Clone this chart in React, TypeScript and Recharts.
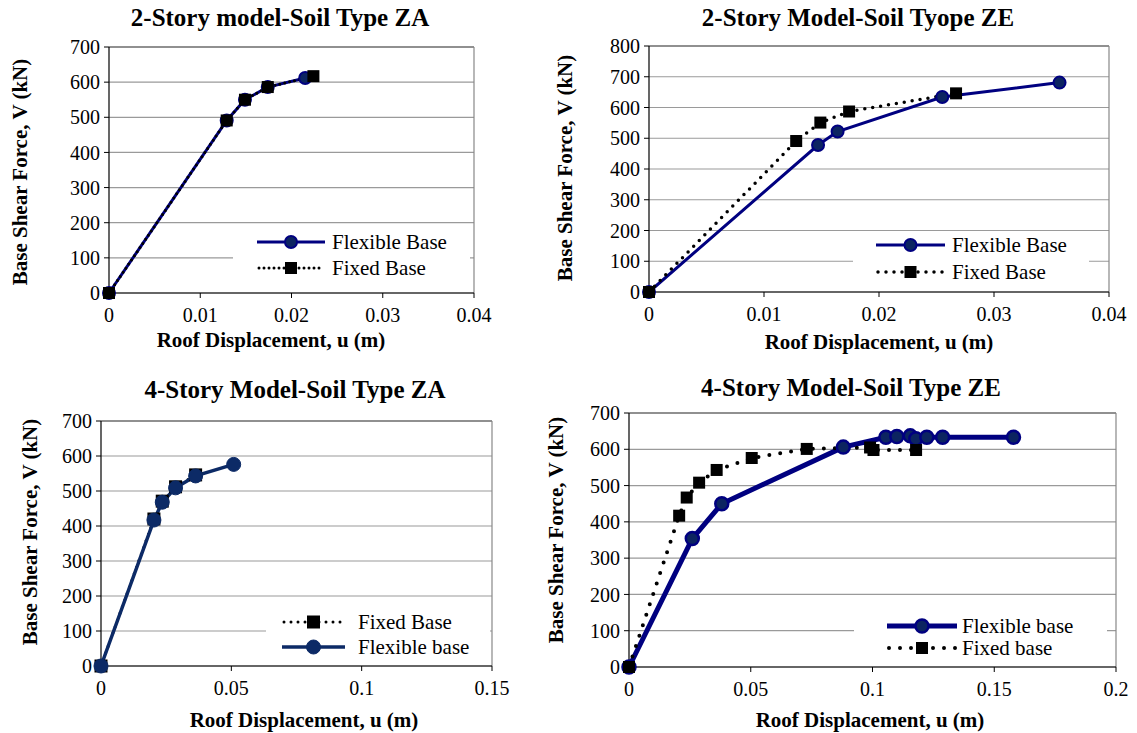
import React from 'react';
import { LineChart, Line, XAxis, YAxis, CartesianGrid, Legend, ReferenceLine } from 'recharts';

// ---------- Data (roof displacement u [m], base shear V [kN]) ----------
// 2-Story model - Soil Type ZA
const p1FlexX = [0, 0.0129, 0.0149, 0.0174, 0.0215];
const p1FlexV = [0, 491, 550, 586, 612];
const p1FixX = [0, 0.0129, 0.0149, 0.0174, 0.0224];
const p1FixV = [0, 491, 550, 586, 617];
// 2-Story Model - Soil Tyope ZE
const p2FlexX = [0, 0.0147, 0.0164, 0.0255, 0.0357];
const p2FlexV = [0, 478, 522, 634, 681];
const p2FixX = [0, 0.0128, 0.0149, 0.0174, 0.0267];
const p2FixV = [0, 491, 551, 587, 646];
// 4-Story Model - Soil Type ZA
const p3FlexX = [0, 0.0203, 0.0235, 0.0286, 0.0363, 0.0509];
const p3FlexV = [0, 417, 468, 509, 543, 576];
const p3FixX = [0, 0.0203, 0.0235, 0.0286, 0.0363];
const p3FixV = [0, 420, 471, 512, 546];
// 4-Story Model - Soil Type ZE
const p4FlexX = [0, 0.026, 0.0381, 0.088, 0.1055, 0.11, 0.1155, 0.1178, 0.1223, 0.1288, 0.1579];
const p4FlexV = [0, 354, 450, 606, 633, 635, 637, 629, 633, 633, 633];
const p4FixX = [0, 0.0206, 0.0237, 0.0288, 0.036, 0.0504, 0.073, 0.099, 0.1004, 0.1179];
const p4FixV = [0, 417, 467, 508, 543, 576, 601, 605, 598, 598];

// ---------- Ticks & labels ----------
const xTicks2Story = [0, 0.01, 0.02, 0.03, 0.04];
const xTicks4StoryZA = [0, 0.05, 0.1, 0.15];
const xTicks4StoryZE = [0, 0.05, 0.1, 0.15, 0.2];
const yTicks700 = [0, 100, 200, 300, 400, 500, 600, 700];
const yTicks800 = [0, 100, 200, 300, 400, 500, 600, 700, 800];
const titles = [
  '2-Story model-Soil Type ZA',
  '2-Story Model-Soil Tyope ZE',
  '4-Story Model-Soil Type ZA',
  '4-Story Model-Soil Type ZE',
];
const xAxisTitle = 'Roof Displacement, u (m)';
const yAxisTitle = 'Base Shear Force, V (kN)';
const legendNames = {
  p1: ['Flexible Base', 'Fixed Base'],
  p2: ['Flexible Base', 'Fixed Base'],
  p3: ['Fixed Base', 'Flexible base'],
  p4: ['Flexible base', 'Fixed base'],
};

const toPts = (xs: number[], vs: number[]) => xs.map((x, i) => ({ x, v: vs[i] }));

const SERIF = '"Liberation Serif", "Times New Roman", Times, serif';

type FlexStyle = { stroke: string; width: number; r: number; fill: string; dotStroke: string; dotStrokeW: number };
type FixStyle = { dash: string; width: number; sq: number };

const squareDot = (size: number) => (props: any) => {
  const { cx, cy, index } = props;
  if (cx == null || cy == null) return <g key={`n-${index}`} />;
  return (
    <rect key={`sq-${index}`} x={cx - size / 2} y={cy - size / 2} width={size} height={size} fill="#000" stroke="none" />
  );
};

type LegendRow = { kind: 'flex' | 'fix'; name: string };

function LegendSample({ kind, flex, fix, w }: { kind: 'flex' | 'fix'; flex: FlexStyle; fix: FixStyle; w: number }) {
  return (
    <svg width={w} height={20} style={{ display: 'block' }}>
      {kind === 'flex' ? (
        <g>
          <line x1={0} y1={10} x2={w} y2={10} stroke={flex.stroke} strokeWidth={flex.width} />
          <circle cx={w / 2} cy={10} r={flex.r} fill={flex.fill} stroke={flex.dotStroke} strokeWidth={flex.dotStrokeW} />
        </g>
      ) : (
        <g>
          <line x1={2} y1={10} x2={w - 1} y2={10} stroke="#000" strokeWidth={fix.width} strokeDasharray={fix.dash} strokeLinecap="round" />
          <rect x={w / 2 - fix.sq / 2} y={10 - fix.sq / 2} width={fix.sq} height={fix.sq} fill="#000" />
        </g>
      )}
    </svg>
  );
}

type PanelProps = {
  left: number; top: number; width: number; height: number;
  plotLeft: number; plotRight: number; plotTop: number; plotBottom: number;
  xTicks: number[]; yTicks: number[];
  flex: { x: number; v: number }[]; fix: { x: number; v: number }[];
  flexStyle: FlexStyle; fixStyle: FixStyle; fixOnTop: boolean;
  legendRows: LegendRow[];
  legendBox: { left: number; top: number; width: number; height: number; rows: number[]; sampleLeft: number; sampleW: number; textLeft: number };
  title: string; titleX: number; titleY: number;
  xLabelX: number; xLabelY: number; yLabelX: number; yLabelY: number;
};

function Panel(p: PanelProps) {
  const xMax = p.xTicks[p.xTicks.length - 1];
  const yMax = p.yTicks[p.yTicks.length - 1];
  const yAxisW = p.plotLeft - p.left;
  const xAxisH = 50;
  const margin = {
    top: p.plotTop - p.top,
    right: p.left + p.width - p.plotRight,
    left: 0,
    bottom: p.top + p.height - p.plotBottom - xAxisH,
  };
  const lb = p.legendBox;
  const legendContent = () => (
    <div style={{ position: 'relative', width: lb.width, height: lb.height, background: '#fff' }}>
      {p.legendRows.map((row, i) => (
        <div key={i} style={{ position: 'absolute', top: lb.rows[i] - 12, left: 0, height: 24, width: lb.width }}>
          <div style={{ position: 'absolute', left: lb.sampleLeft, top: 2 }}>
            <LegendSample kind={row.kind} flex={p.flexStyle} fix={p.fixStyle} w={lb.sampleW} />
          </div>
          <div style={{ position: 'absolute', left: lb.textLeft, top: 0, lineHeight: '24px', fontFamily: SERIF, fontSize: 21, color: '#000', whiteSpace: 'nowrap' }}>
            {row.name}
          </div>
        </div>
      ))}
    </div>
  );

  const flexLine = (
    <Line
      key="flex"
      data={p.flex}
      dataKey="v"
      type="linear"
      stroke={p.flexStyle.stroke}
      strokeWidth={p.flexStyle.width}
      dot={{ r: p.flexStyle.r, fill: p.flexStyle.fill, stroke: p.flexStyle.dotStroke, strokeWidth: p.flexStyle.dotStrokeW }}
      activeDot={false}
      isAnimationActive={false}
      name="flex"
    />
  );
  const fixLine = (
    <Line
      key="fix"
      data={p.fix}
      dataKey="v"
      type="linear"
      stroke="#000"
      strokeWidth={p.fixStyle.width}
      strokeDasharray={p.fixStyle.dash}
      strokeLinecap="round"
      dot={squareDot(p.fixStyle.sq)}
      activeDot={false}
      isAnimationActive={false}
      name="fix"
    />
  );

  const tickStyle = { fontFamily: SERIF, fontSize: 20, fill: '#000' };

  return (
    <div style={{ position: 'absolute', left: p.left, top: p.top, width: p.width, height: p.height }}>
      <LineChart width={p.width} height={p.height} margin={margin}>
        <CartesianGrid vertical={false} stroke="#9a9a9a" strokeWidth={1.2} />
        <XAxis
          dataKey="x"
          type="number"
          domain={[0, xMax]}
          ticks={p.xTicks}
          allowDuplicatedCategory={false}
          height={xAxisH}
          tick={tickStyle}
          tickSize={5}
          tickMargin={10}
          axisLine={{ stroke: '#000', strokeWidth: 1.2 }}
          tickLine={{ stroke: '#000' }}
          interval={0}
        />
        <YAxis
          type="number"
          domain={[0, yMax]}
          ticks={p.yTicks}
          width={yAxisW}
          tick={tickStyle}
          tickSize={5}
          tickMargin={4}
          axisLine={{ stroke: '#000', strokeWidth: 1.2 }}
          tickLine={{ stroke: '#000' }}
          interval={0}
        />
        <ReferenceLine y={yMax} stroke="#555" strokeWidth={1.2} />
        <ReferenceLine x={xMax} stroke="#888" strokeWidth={1.2} />
        <Legend
          layout="vertical"
          align="center"
          verticalAlign="middle"
          content={legendContent}
          wrapperStyle={{ position: 'absolute', left: lb.left - p.left, top: lb.top - p.top, width: lb.width, height: lb.height }}
        />
        {p.fixOnTop ? [flexLine, fixLine] : [fixLine, flexLine]}
      </LineChart>
      <div style={{ position: 'absolute', left: p.titleX - p.left, top: p.titleY - p.top, transform: 'translate(-50%, -50%)', fontFamily: SERIF, fontWeight: 'bold', fontSize: 25, whiteSpace: 'nowrap', color: '#000' }}>
        {p.title}
      </div>
      <div style={{ position: 'absolute', left: p.xLabelX - p.left, top: p.xLabelY - p.top, transform: 'translate(-50%, -50%)', fontFamily: SERIF, fontWeight: 'bold', fontSize: 21, whiteSpace: 'nowrap', color: '#000' }}>
        {xAxisTitle}
      </div>
      <div style={{ position: 'absolute', left: p.yLabelX - p.left, top: p.yLabelY - p.top, transform: 'translate(-50%, -50%) rotate(-90deg)', fontFamily: SERIF, fontWeight: 'bold', fontSize: 21, whiteSpace: 'nowrap', color: '#000' }}>
        {yAxisTitle}
      </div>
    </div>
  );
}

const navyFlex: FlexStyle = { stroke: '#000080', width: 3, r: 6, fill: '#0c2461', dotStroke: '#000080', dotStrokeW: 2 };
const navyFlexThick: FlexStyle = { stroke: '#000080', width: 5, r: 6.5, fill: '#0c2461', dotStroke: '#000080', dotStrokeW: 2.5 };
const darkFlex: FlexStyle = { stroke: '#0c2a66', width: 3.5, r: 7, fill: '#0c2a66', dotStroke: '#0c2a66', dotStrokeW: 1 };

export default function App() {
  return (
    <div style={{ position: 'absolute', left: 0, top: 0, width: 1137, height: 733, background: '#fff', overflow: 'hidden' }}>
      <Panel
        left={0} top={0} width={560} height={360}
        plotLeft={109} plotRight={474} plotTop={47} plotBottom={293}
        xTicks={xTicks2Story} yTicks={yTicks700}
        flex={toPts(p1FlexX, p1FlexV)} fix={toPts(p1FixX, p1FixV)}
        flexStyle={navyFlex} fixStyle={{ dash: '0 5', width: 3, sq: 12 }} fixOnTop={true}
        legendRows={[{ kind: 'flex', name: legendNames.p1[0] }, { kind: 'fix', name: legendNames.p1[1] }]}
        legendBox={{ left: 233, top: 228, width: 237, height: 54, rows: [14, 40], sampleLeft: 24, sampleW: 68, textLeft: 99 }}
        title={titles[0]} titleX={280} titleY={18}
        xLabelX={271} xLabelY={340} yLabelX={20} yLabelY={172}
      />
      <Panel
        left={560} top={0} width={577} height={360}
        plotLeft={649} plotRight={1109} plotTop={46} plotBottom={292}
        xTicks={xTicks2Story} yTicks={yTicks800}
        flex={toPts(p2FlexX, p2FlexV)} fix={toPts(p2FixX, p2FixV)}
        flexStyle={navyFlex} fixStyle={{ dash: '0 8', width: 3.5, sq: 12 }} fixOnTop={true}
        legendRows={[{ kind: 'flex', name: legendNames.p2[0] }, { kind: 'fix', name: legendNames.p2[1] }]}
        legendBox={{ left: 853, top: 231, width: 236, height: 56, rows: [14, 41], sampleLeft: 23, sampleW: 69, textLeft: 99 }}
        title={titles[1]} titleX={858} titleY={18}
        xLabelX={879} xLabelY={342} yLabelX={565} yLabelY={168}
      />
      <Panel
        left={0} top={370} width={560} height={363}
        plotLeft={101} plotRight={492} plotTop={421} plotBottom={666}
        xTicks={xTicks4StoryZA} yTicks={yTicks700}
        flex={toPts(p3FlexX, p3FlexV)} fix={toPts(p3FixX, p3FixV)}
        flexStyle={darkFlex} fixStyle={{ dash: '0 7', width: 3, sq: 13 }} fixOnTop={false}
        legendRows={[{ kind: 'fix', name: legendNames.p3[0] }, { kind: 'flex', name: legendNames.p3[1] }]}
        legendBox={{ left: 266, top: 606, width: 224, height: 56, rows: [16, 41], sampleLeft: 16, sampleW: 63, textLeft: 92 }}
        title={titles[2]} titleX={295} titleY={390}
        xLabelX={304} xLabelY={720} yLabelX={30} yLabelY={532}
      />
      <Panel
        left={540} top={370} width={597} height={363}
        plotLeft={629} plotRight={1116} plotTop={413} plotBottom={667}
        xTicks={xTicks4StoryZE} yTicks={yTicks700}
        flex={toPts(p4FlexX, p4FlexV)} fix={toPts(p4FixX, p4FixV)}
        flexStyle={navyFlexThick} fixStyle={{ dash: '0 11', width: 4, sq: 12 }} fixOnTop={true}
        legendRows={[{ kind: 'flex', name: legendNames.p4[0] }, { kind: 'fix', name: legendNames.p4[1] }]}
        legendBox={{ left: 854, top: 612, width: 253, height: 50, rows: [14, 36], sampleLeft: 33, sampleW: 70, textLeft: 108 }}
        title={titles[3]} titleX={851} titleY={388}
        xLabelX={870} xLabelY={720} yLabelX={556} yLabelY={530}
      />
    </div>
  );
}
